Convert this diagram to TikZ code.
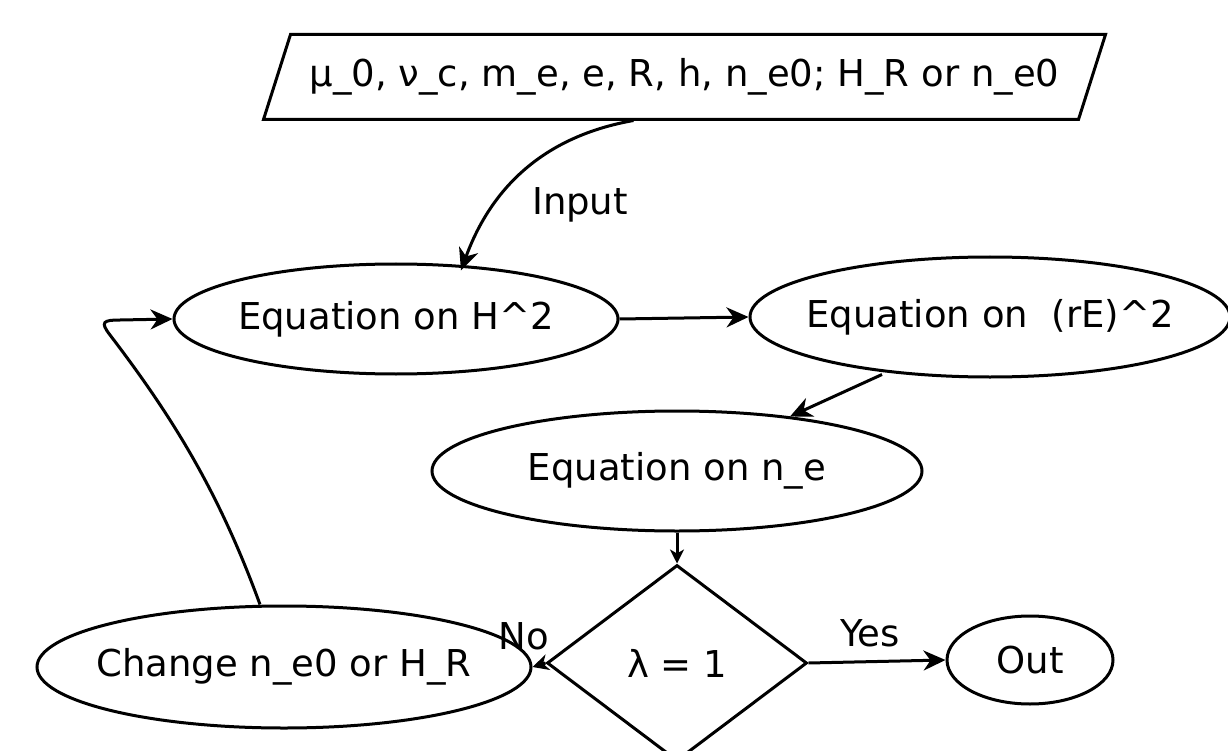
\documentclass[tikz,border=0pt]{standalone}
\usepackage{fontspec}
\setmainfont{DejaVu Sans}
\usetikzlibrary{shapes.geometric,arrows.meta,calc}
\begin{document}
\begin{tikzpicture}[x=1pt,y=-1pt,
  every node/.style={font=\fontsize{37}{44}\selectfont},
  line width=3pt,
  ell/.style={draw,ellipse,inner sep=0pt,fill=white},
  conn/.style={-{Stealth[length=22pt,width=20pt,inset=7pt]}},
  lbl/.style={inner sep=0pt}]
\useasboundingbox (0,0) rectangle (1228,751);
\clip (0,0) rectangle (1228,751);
\fill[white] (0,0) rectangle (1228,751);
% input parallelogram
\node[minimum width=812pt,minimum height=82pt,inner sep=0pt]
  (in) at (684.5,77) {μ\_0, ν\_c, m\_e, e, R, h, n\_e0; H\_R or n\_e0};
\draw[line join=miter] ($(in.south west)+(-13.5,0)$) -- ($(in.south east)+(-13.5,0)$)
  -- ($(in.north east)+(13.5,0)$) -- ($(in.north west)+(13.5,0)$) -- cycle;
\node[ell,minimum width=444pt,minimum height=110pt] (h2) at (396,319) {\makebox[0pt]{Equation on H\textasciicircum 2}};
\node[ell,minimum width=480pt,minimum height=120pt] (re) at (990,317) {\makebox[0pt]{Equation on\ \ (rE)\textasciicircum 2}};
\node[ell,minimum width=490pt,minimum height=120pt] (ne) at (677,471) {\makebox[0pt]{Equation on n\_e}};
\node[draw,diamond,aspect=1.33,minimum width=260pt,minimum height=196pt,inner sep=0pt] (lam) at (677,663) {λ = 1};
\node[ell,minimum width=494pt,minimum height=122pt] (ch) at (284,667) {\makebox[0pt]{Change n\_e0 or H\_R}};
\node[ell,minimum width=166pt,minimum height=88pt] (out) at (1030,660) {\makebox[0pt]{Out}};
% connectors
\coordinate (inb) at ($(in.south)+(-51,1)$);
\draw[conn] (inb) to[out=190,in=70] ($(h2.north)+(65,8)$);
\node[lbl] (inlab) at (580,205) {Input};
\draw[conn] (h2.east) -- (re.west);
\draw[conn] ($(re.south)+(-108,-4)$) -- ($(ne.north)+(113,7)$);
\draw[conn,-{Stealth[length=14pt,width=14pt,inset=4pt]}] (ne.south) -- (lam.north);
\draw[conn,-{Stealth[length=16pt,width=16pt,inset=5pt]}] (lam.west) -- (ch.east);
\node[lbl] (nolab) at (524,636) {No};
\draw[conn] (lam.east) -- (out.west);
\node[lbl] (yeslab) at (870,633) {Yes};
\coordinate (lc) at ($(ch.north)+(-24,0)$);
\draw[conn] (lc) .. controls (220,495) and (175,420) .. (110,335)
  .. controls (100,322) and (103,320) .. (120,320) -- (h2.west);
\end{tikzpicture}
\end{document}
